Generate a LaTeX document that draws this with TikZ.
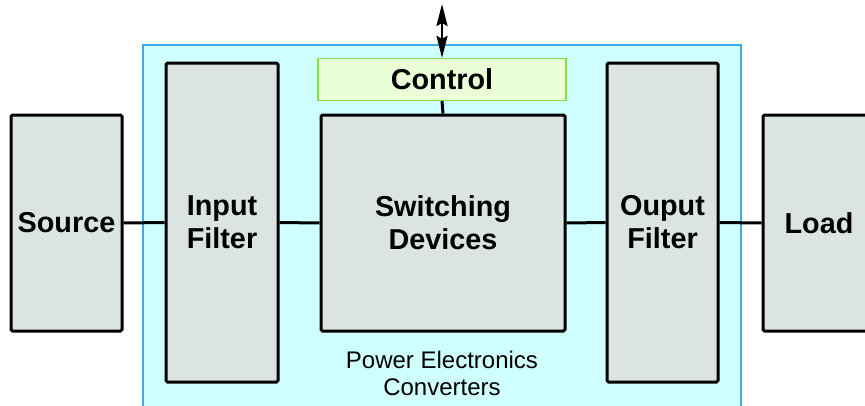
\documentclass[tikz,border=0pt]{standalone}
\usepackage{fontspec}
\setmainfont{Liberation Sans}
\usepackage{tikz}
\usetikzlibrary{arrows.meta}
\definecolor{boxgray}{RGB}{220, 227, 227}
\definecolor{convcyan}{RGB}{208, 255, 255}
\definecolor{convblue}{RGB}{64, 168, 230}
\definecolor{ctrlfill}{RGB}{234, 255, 216}
\definecolor{ctrlgreen}{RGB}{128, 226, 64}

\begin{document}
\begin{tikzpicture}[
    x=1pt, y=-1pt,
    block/.style={draw=black, fill=boxgray, line width=3pt, rounded corners=1.5pt,
        align=center, inner sep=0pt, font=\fontsize{28.8}{33}\selectfont\bfseries,
        minimum width=#1},
    block/.default=111pt,
    wire/.style={line width=3pt},
    biarrow/.style={line width=2.5pt,
        {Stealth[length=22pt,width=11pt,inset=3pt]}-{Stealth[length=22pt,width=11pt,inset=3pt]}}
]
    \useasboundingbox (0,0) rectangle (865,405);

    % Converter background
    \begin{scope}
    \clip (0,0) rectangle (865,405);
    \fill[convcyan] (143,45) rectangle (741,420);
    \draw[convblue, line width=1.2pt] (741,420) -- (741,45) -- (143,45) -- (143,420);

    % Blocks
    \node[block, minimum height=216pt] (source) at (66.5,223) {Source};
    \node[block=112pt, minimum height=319pt] (infilter) at (222,222.5) {Input\\Filter};
    \node[block=244pt, minimum height=216pt] (switch) at (443,223) {Switching\\Devices};
    \node[block, minimum height=319pt] (outfilter) at (662.5,222.5) {Ouput\\Filter};
    \node[block=112pt, minimum height=216pt] (load) at (819,223) {Load};

    % Control unit
    \node[draw=ctrlgreen, fill=ctrlfill, line width=1.3pt, minimum width=248pt,
        minimum height=42pt, font=\fontsize{28.8}{33}\selectfont\bfseries] (control) at (442,79.5) {Control};
    \coordinate (ext) at (442,4);

    % Label of the converter
    \node[align=center, font=\fontsize{24}{27}\selectfont] (convlabel) at (442,373) {Power Electronics\\Converters};

    % Connections
    \draw[wire] (source.east) -- (infilter.west);
    \draw[wire] (infilter.east) -- (switch.west);
    \draw[wire] (switch.east) -- (outfilter.west);
    \draw[wire] (outfilter.east) -- (load.west);
    \draw[wire] (control.south) -- (switch.north);
    \draw[biarrow] (ext) -- (control.north);
    \end{scope}

\end{tikzpicture}
\end{document}
